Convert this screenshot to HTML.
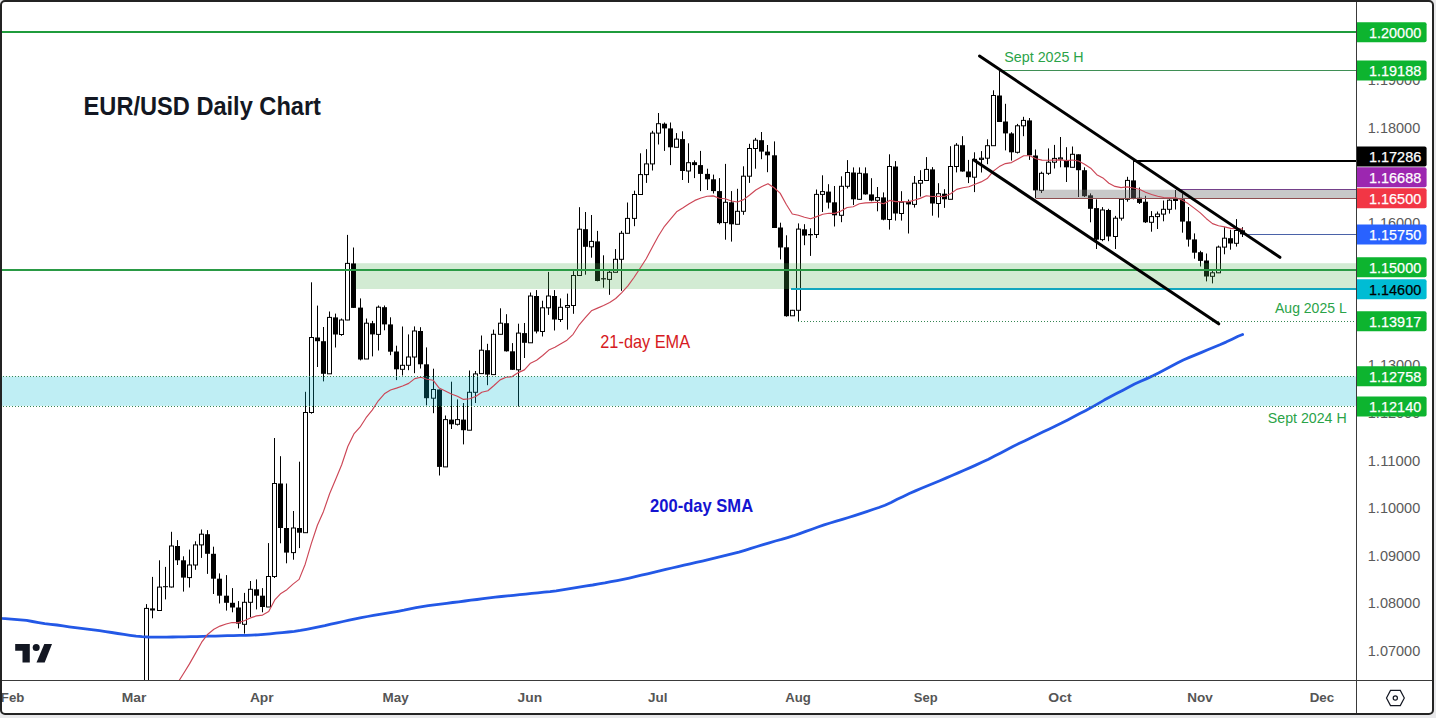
<!DOCTYPE html><html><head><meta charset="utf-8"><title>EUR/USD Daily Chart</title><style>html,body{margin:0;padding:0;width:1436px;height:718px;overflow:hidden;background:#e8e8ea}svg{display:block}text{font-family:"Liberation Sans",Arial,sans-serif}</style></head><body>
<svg width="1436" height="718" viewBox="0 0 1436 718">
<defs><clipPath id="cp"><rect x="2" y="2" width="1354" height="678"/></clipPath></defs>
<rect x="1" y="1" width="1432" height="713" rx="4" fill="#ffffff"/>
<g clip-path="url(#cp)">
<path d="M146.5 604.1V691.0M152.5 576.9V618.3M159.5 560.3V610.5M165.5 566.9V599.4M171.5 531.8V587.5M177.5 540.1V565.0M183.5 556.3V591.6M189.5 549.6V587.5M195.5 541.3V569.8M201.5 529.5V557.9M207.5 530.1V573.9M213.5 546.7V594.0M219.5 573.4V603.5M226.5 575.1V610.6M232.5 588.1V612.3M238.5 601.1V628.4M244.5 592.9V633.6M250.5 581.0V617.0M256.5 579.4V609.4M262.5 588.1V612.3M268.5 543.1V607.0M274.5 438.0V578.0M280.5 456.2V543.3M286.5 483.5V563.3M293.5 511.0V559.7M299.5 461.7V548.1M305.5 391.8V532.7M311.5 282.3V413.7M317.5 305.6V367.0M323.5 327.0V381.4M329.5 311.5V373.8M335.5 313.6V347.5M341.5 318.5V335.8M347.5 234.9V320.2M353.5 247.5V307.9M360.5 298.4V360.4M366.5 318.5V359.0M372.5 320.9V356.4M378.5 305.5V350.5M384.5 305.5V330.3M390.5 317.3V355.2M396.5 345.7V380.1M402.5 326.5V375.5M408.5 334.4V370.2M414.5 326.4V373.2M420.5 327.2V368.5M426.5 347.4V405.4M433.5 368.7V413.2M439.5 389.5V475.5M445.5 415.5V466.9M451.5 381.7V429.0M457.5 399.4V425.5M463.5 403.0V444.4M469.5 370.5V430.2M475.5 371.0V403.0M481.5 335.5V373.6M487.5 343.8V385.2M493.5 329.6V374.6M500.5 308.3V334.3M506.5 314.2V351.6M512.5 343.1V369.8M518.5 323.7V406.5M524.5 323.0V358.0M530.5 292.5V342.9M536.5 290.1V333.4M542.5 300.7V336.5M548.5 271.9V314.9M554.5 290.1V330.5M560.5 298.4V322.0M567.5 293.6V329.6M573.5 271.1V313.8M579.5 207.2V275.9M585.5 212.0V274.7M591.5 215.0V257.7M597.5 230.9V281.3M603.5 255.3V287.7M609.5 270.0V294.8M615.5 249.1V272.3M621.5 230.9V290.8M627.5 202.5V233.3M634.5 190.7V226.2M640.5 153.3V194.7M646.5 149.2V182.9M652.5 130.8V170.5M658.5 113.0V144.5M664.5 122.5V150.9M670.5 122.5V165.1M676.5 133.1V147.3M682.5 131.3V180.0M688.5 143.3V182.9M694.5 160.4V178.1M700.5 150.9V191.1M707.5 168.7V190.0M713.5 174.6V193.5M719.5 178.1V224.3M725.5 163.9V239.7M731.5 191.1V241.6M737.5 188.8V224.3M743.5 166.3V214.8M749.5 143.8V182.9M755.5 137.9V168.7M761.5 132.0V159.2M767.5 145.0V172.2M774.5 141.4V228.0M780.5 222.7V259.4M786.5 235.3V316.7M792.5 309.9V315.8M798.5 223.4V321.5M804.5 224.2V245.2M810.5 228.3V255.9M816.5 189.5V238.0M822.5 175.3V212.0M828.5 184.2V208.5M834.5 186.0V226.5M841.5 176.3V222.2M847.5 160.1V188.5M853.5 167.4V205.0M859.5 167.4V199.9M865.5 167.4V194.7M871.5 178.2V201.3M877.5 187.0V211.3M883.5 192.4V220.3M889.5 154.3V229.6M895.5 161.1V220.6M901.5 191.2V220.6M908.5 199.5V233.5M914.5 176.0V207.6M920.5 170.2V196.6M926.5 157.1V180.6M932.5 167.1V215.7M938.5 183.2V217.6M944.5 189.2V207.9M950.5 146.2V199.3M956.5 143.1V172.4M962.5 136.2V171.7M968.5 159.9V183.1M974.5 152.3V192.1M981.5 151.1V172.5M987.5 139.3V164.2M993.5 90.3V145.7M999.5 70.7V122.0M1005.5 103.8V150.4M1011.5 132.2V160.6M1017.5 123.9V153.5M1023.5 116.8V136.2M1029.5 118.0V159.9M1035.5 149.5V198.0M1041.5 171.7V193.0M1048.5 148.4V174.9M1054.5 144.9V168.5M1060.5 137.0V167.3M1066.5 147.2V182.0M1072.5 146.5V167.3M1078.5 154.3V197.0M1084.5 167.3V197.0M1090.5 193.4V222.3M1096.5 199.3V249.0M1102.5 207.1V241.2M1108.5 208.8V241.2M1115.5 215.9V249.0M1121.5 199.3V220.6M1127.5 176.8V201.7M1133.5 160.2V199.3M1139.5 187.5V204.0M1145.5 195.8V223.0M1151.5 211.1V231.7M1157.5 211.5V229.0M1163.5 200.5V221.3M1169.5 199.2V213.6M1175.5 190.0V209.5M1182.5 193.6V232.7M1188.5 207.0V246.6M1194.5 233.4V258.7M1200.5 250.8V266.5M1206.5 253.5V281.4M1212.5 270.7V283.4M1218.5 245.6V273.1M1224.5 227.2V254.3M1230.5 229.8V249.7M1236.5 219.1V246.6M1242.5 227.2V237.0" stroke="#000" stroke-width="1" fill="none"/>
<g fill="#fff" stroke="#000" stroke-width="1"><rect x="144.5" y="608.4" width="4" height="78.0"/><rect x="157.5" y="587.1" width="4" height="23.4"/><rect x="169.5" y="546.0" width="4" height="41.0"/><rect x="187.5" y="565.0" width="4" height="12.6"/><rect x="193.5" y="544.9" width="4" height="20.1"/><rect x="199.5" y="534.2" width="4" height="10.7"/><rect x="242.5" y="602.3" width="4" height="22.0"/><rect x="248.5" y="589.3" width="4" height="13.0"/><rect x="266.5" y="576.5" width="4" height="30.5"/><rect x="272.5" y="483.5" width="4" height="93.0"/><rect x="291.5" y="528.0" width="4" height="24.6"/><rect x="303.5" y="412.5" width="4" height="120.2"/><rect x="309.5" y="337.5" width="4" height="75.0"/><rect x="327.5" y="317.4" width="4" height="56.4"/><rect x="339.5" y="320.0" width="4" height="14.5"/><rect x="345.5" y="263.4" width="4" height="56.6"/><rect x="364.5" y="323.2" width="4" height="35.8"/><rect x="376.5" y="307.2" width="4" height="27.2"/><rect x="400.5" y="365.3" width="4" height="4.0"/><rect x="406.5" y="357.0" width="4" height="8.3"/><rect x="412.5" y="331.0" width="4" height="26.0"/><rect x="431.5" y="389.5" width="4" height="8.7"/><rect x="443.5" y="419.6" width="4" height="47.3"/><rect x="455.5" y="419.6" width="4" height="4.7"/><rect x="467.5" y="392.3" width="4" height="37.9"/><rect x="473.5" y="373.9" width="4" height="18.4"/><rect x="479.5" y="350.2" width="4" height="23.4"/><rect x="491.5" y="334.3" width="4" height="40.3"/><rect x="498.5" y="323.2" width="4" height="11.1"/><rect x="516.5" y="333.1" width="4" height="36.7"/><rect x="528.5" y="296.0" width="4" height="46.8"/><rect x="540.5" y="307.8" width="4" height="23.7"/><rect x="546.5" y="296.0" width="4" height="11.8"/><rect x="558.5" y="307.3" width="4" height="12.2"/><rect x="565.5" y="305.5" width="4" height="1.8"/><rect x="571.5" y="275.5" width="4" height="30.0"/><rect x="577.5" y="229.2" width="4" height="46.3"/><rect x="589.5" y="241.4" width="4" height="5.4"/><rect x="607.5" y="272.3" width="4" height="7.1"/><rect x="613.5" y="259.3" width="4" height="13.0"/><rect x="619.5" y="233.3" width="4" height="26.0"/><rect x="625.5" y="218.4" width="4" height="14.9"/><rect x="632.5" y="194.5" width="4" height="23.9"/><rect x="638.5" y="174.6" width="4" height="19.9"/><rect x="644.5" y="163.9" width="4" height="10.7"/><rect x="650.5" y="133.1" width="4" height="30.8"/><rect x="656.5" y="123.7" width="4" height="9.4"/><rect x="674.5" y="139.1" width="4" height="8.2"/><rect x="686.5" y="162.7" width="4" height="8.3"/><rect x="723.5" y="202.3" width="4" height="20.3"/><rect x="735.5" y="211.3" width="4" height="13.0"/><rect x="741.5" y="176.2" width="4" height="35.1"/><rect x="747.5" y="148.5" width="4" height="27.7"/><rect x="753.5" y="140.2" width="4" height="8.3"/><rect x="790.5" y="310.3" width="4" height="5.5"/><rect x="796.5" y="229.1" width="4" height="81.2"/><rect x="814.5" y="194.4" width="4" height="40.1"/><rect x="820.5" y="191.6" width="4" height="2.8"/><rect x="839.5" y="186.3" width="4" height="29.0"/><rect x="845.5" y="172.5" width="4" height="13.8"/><rect x="857.5" y="173.3" width="4" height="26.0"/><rect x="875.5" y="197.6" width="4" height="2.7"/><rect x="887.5" y="166.5" width="4" height="53.0"/><rect x="899.5" y="202.2" width="4" height="11.3"/><rect x="912.5" y="183.2" width="4" height="21.2"/><rect x="918.5" y="180.5" width="4" height="2.7"/><rect x="924.5" y="169.4" width="4" height="11.1"/><rect x="936.5" y="193.7" width="4" height="9.8"/><rect x="948.5" y="166.5" width="4" height="32.8"/><rect x="954.5" y="145.2" width="4" height="21.3"/><rect x="972.5" y="159.4" width="4" height="17.8"/><rect x="979.5" y="158.2" width="4" height="1.2"/><rect x="985.5" y="145.7" width="4" height="12.5"/><rect x="991.5" y="95.5" width="4" height="50.2"/><rect x="1015.5" y="125.8" width="4" height="26.5"/><rect x="1021.5" y="120.4" width="4" height="5.4"/><rect x="1039.5" y="173.3" width="4" height="17.1"/><rect x="1046.5" y="162.2" width="4" height="11.1"/><rect x="1052.5" y="158.4" width="4" height="3.8"/><rect x="1058.5" y="157.9" width="4" height="1.2"/><rect x="1070.5" y="154.3" width="4" height="13.0"/><rect x="1100.5" y="210.0" width="4" height="29.6"/><rect x="1113.5" y="218.2" width="4" height="18.3"/><rect x="1119.5" y="199.3" width="4" height="18.9"/><rect x="1125.5" y="180.4" width="4" height="18.9"/><rect x="1149.5" y="216.6" width="4" height="5.7"/><rect x="1155.5" y="214.1" width="4" height="2.5"/><rect x="1161.5" y="209.3" width="4" height="4.8"/><rect x="1167.5" y="200.2" width="4" height="9.1"/><rect x="1173.5" y="199.5" width="4" height="1.0"/><rect x="1210.5" y="272.8" width="4" height="3.5"/><rect x="1216.5" y="247.1" width="4" height="25.7"/><rect x="1222.5" y="238.2" width="4" height="8.9"/><rect x="1234.5" y="230.5" width="4" height="12.8"/></g>
<g fill="#000"><rect x="150.0" y="608.4" width="5" height="2.1"/><rect x="163.0" y="586.2" width="5" height="1.0"/><rect x="175.0" y="546.0" width="5" height="14.3"/><rect x="181.0" y="560.3" width="5" height="17.3"/><rect x="205.0" y="534.2" width="5" height="19.6"/><rect x="211.0" y="553.8" width="5" height="24.9"/><rect x="217.0" y="578.7" width="5" height="17.0"/><rect x="224.0" y="595.7" width="5" height="7.1"/><rect x="230.0" y="602.8" width="5" height="4.7"/><rect x="236.0" y="607.5" width="5" height="16.1"/><rect x="254.0" y="589.3" width="5" height="6.4"/><rect x="260.0" y="595.7" width="5" height="11.3"/><rect x="278.0" y="483.5" width="5" height="44.5"/><rect x="284.0" y="528.0" width="5" height="24.6"/><rect x="297.0" y="528.0" width="5" height="4.7"/><rect x="315.0" y="337.5" width="5" height="3.7"/><rect x="321.0" y="341.2" width="5" height="32.6"/><rect x="333.0" y="317.4" width="5" height="17.1"/><rect x="351.0" y="263.4" width="5" height="44.5"/><rect x="358.0" y="307.6" width="5" height="51.9"/><rect x="370.0" y="323.2" width="5" height="11.2"/><rect x="382.0" y="307.2" width="5" height="17.2"/><rect x="388.0" y="324.4" width="5" height="27.3"/><rect x="394.0" y="351.5" width="5" height="17.8"/><rect x="418.0" y="331.0" width="5" height="33.3"/><rect x="424.0" y="364.3" width="5" height="33.9"/><rect x="437.0" y="389.5" width="5" height="77.4"/><rect x="449.0" y="419.6" width="5" height="4.7"/><rect x="461.0" y="419.6" width="5" height="10.6"/><rect x="485.0" y="350.2" width="5" height="24.4"/><rect x="504.0" y="323.2" width="5" height="28.1"/><rect x="510.0" y="351.3" width="5" height="18.5"/><rect x="522.0" y="333.1" width="5" height="9.7"/><rect x="534.0" y="296.0" width="5" height="35.5"/><rect x="552.0" y="296.0" width="5" height="23.5"/><rect x="583.0" y="229.2" width="5" height="17.6"/><rect x="595.0" y="241.4" width="5" height="39.6"/><rect x="601.0" y="278.2" width="5" height="1.2"/><rect x="662.0" y="123.7" width="5" height="4.7"/><rect x="668.0" y="128.4" width="5" height="18.9"/><rect x="680.0" y="139.1" width="5" height="31.9"/><rect x="692.0" y="162.2" width="5" height="2.9"/><rect x="698.0" y="165.1" width="5" height="8.8"/><rect x="705.0" y="173.9" width="5" height="5.4"/><rect x="711.0" y="179.3" width="5" height="11.8"/><rect x="717.0" y="191.1" width="5" height="32.0"/><rect x="729.0" y="202.3" width="5" height="22.0"/><rect x="759.0" y="140.2" width="5" height="11.4"/><rect x="765.0" y="151.6" width="5" height="3.7"/><rect x="772.0" y="155.3" width="5" height="72.7"/><rect x="778.0" y="227.5" width="5" height="20.0"/><rect x="784.0" y="247.3" width="5" height="68.9"/><rect x="802.0" y="229.3" width="5" height="6.3"/><rect x="808.0" y="234.0" width="5" height="1.3"/><rect x="826.0" y="191.6" width="5" height="11.0"/><rect x="832.0" y="202.3" width="5" height="13.0"/><rect x="851.0" y="172.5" width="5" height="26.8"/><rect x="863.0" y="173.3" width="5" height="21.1"/><rect x="869.0" y="194.4" width="5" height="6.2"/><rect x="881.0" y="197.4" width="5" height="22.3"/><rect x="893.0" y="166.5" width="5" height="47.0"/><rect x="906.0" y="201.9" width="5" height="2.5"/><rect x="930.0" y="169.4" width="5" height="34.1"/><rect x="942.0" y="193.7" width="5" height="5.6"/><rect x="960.0" y="145.2" width="5" height="26.3"/><rect x="966.0" y="171.5" width="5" height="5.7"/><rect x="997.0" y="95.5" width="5" height="26.5"/><rect x="1003.0" y="121.5" width="5" height="11.9"/><rect x="1009.0" y="133.4" width="5" height="18.9"/><rect x="1027.0" y="120.4" width="5" height="34.9"/><rect x="1033.0" y="155.5" width="5" height="34.9"/><rect x="1064.0" y="160.2" width="5" height="7.1"/><rect x="1076.0" y="154.3" width="5" height="15.9"/><rect x="1082.0" y="170.2" width="5" height="26.0"/><rect x="1088.0" y="195.3" width="5" height="13.5"/><rect x="1094.0" y="208.1" width="5" height="31.5"/><rect x="1106.0" y="210.0" width="5" height="26.5"/><rect x="1131.0" y="180.4" width="5" height="17.7"/><rect x="1137.0" y="197.7" width="5" height="5.2"/><rect x="1143.0" y="201.7" width="5" height="20.6"/><rect x="1180.0" y="199.3" width="5" height="22.3"/><rect x="1186.0" y="221.3" width="5" height="18.3"/><rect x="1192.0" y="239.4" width="5" height="13.3"/><rect x="1198.0" y="252.2" width="5" height="8.7"/><rect x="1204.0" y="260.5" width="5" height="16.0"/><rect x="1228.0" y="238.2" width="5" height="5.3"/><rect x="1240.0" y="230.3" width="5" height="4.0"/></g>
<rect x="0" y="376.5" width="1356" height="29.4" fill="rgba(0,188,212,0.25)"/>
<rect x="355.8" y="263.2" width="1000.2" height="25.8" fill="rgba(76,175,80,0.25)"/>
<rect x="1035.6" y="189.7" width="320.4" height="8.9" fill="rgba(117,117,117,0.40)"/>
<polyline points="0.0,618.1 2.1,618.4 8.2,618.8 14.3,619.3 20.4,619.8 26.5,620.4 32.5,621.5 38.6,622.6 44.7,623.6 50.8,624.3 56.9,625.0 63.0,625.9 69.1,626.8 75.2,627.6 81.3,628.4 87.3,629.1 93.4,629.9 99.5,630.7 105.6,631.6 111.7,632.5 117.8,633.5 123.9,634.4 130.0,635.3 136.1,636.1 142.1,636.7 148.2,637.0 154.3,637.1 160.4,637.1 166.5,637.1 172.6,637.0 178.7,636.9 184.8,636.8 190.9,636.7 196.9,636.6 203.0,636.4 209.1,636.2 215.2,636.1 221.3,635.9 227.4,635.7 233.5,635.6 239.6,635.4 245.7,635.3 251.7,635.1 257.8,634.8 263.9,634.3 270.0,633.8 276.1,633.2 282.2,632.6 288.3,632.0 294.4,631.3 300.5,630.4 306.5,629.3 312.6,628.1 318.7,626.8 324.8,625.6 330.9,624.2 337.0,622.9 343.1,621.5 349.2,620.1 355.3,618.9 361.3,617.7 367.4,616.5 373.5,615.4 379.6,614.3 385.7,613.3 391.8,612.3 397.9,611.3 404.0,610.2 410.1,608.9 416.1,607.7 422.2,606.6 428.3,605.7 434.4,604.9 440.5,604.1 446.6,603.3 452.7,602.5 458.8,601.8 464.9,601.0 470.9,600.2 477.0,599.5 483.1,598.7 489.2,597.9 495.3,597.2 501.4,596.5 507.5,595.9 513.6,595.3 519.7,594.7 525.7,594.1 531.8,593.4 537.9,592.8 544.0,592.2 550.1,591.6 556.2,590.8 562.3,589.8 568.4,588.8 574.5,587.8 580.5,586.9 586.6,585.9 592.7,585.0 598.8,583.9 604.9,582.9 611.0,581.7 617.1,580.6 623.2,579.4 629.3,578.1 635.3,576.7 641.4,575.2 647.5,573.8 653.6,572.3 659.7,570.9 665.8,569.4 671.9,568.0 678.0,566.6 684.1,565.2 690.1,563.8 696.2,562.4 702.3,561.1 708.4,559.7 714.5,558.2 720.6,556.7 726.7,555.2 732.8,553.7 738.9,552.1 744.9,550.3 751.0,548.4 757.1,546.5 763.2,544.6 769.3,542.8 775.4,541.0 781.5,539.4 787.6,537.6 793.7,535.7 799.7,533.6 805.8,531.4 811.9,529.2 818.0,527.0 824.1,524.9 830.2,523.0 836.3,521.2 842.4,519.4 848.5,517.5 854.5,515.6 860.6,513.6 866.7,511.6 872.8,509.5 878.9,507.5 885.0,505.2 891.1,502.4 897.2,499.3 903.3,496.4 909.3,493.5 915.4,490.9 921.5,488.3 927.6,485.8 933.7,483.2 939.8,480.7 945.9,478.1 952.0,475.5 958.1,472.9 964.1,470.3 970.2,467.6 976.3,464.9 982.4,462.1 988.5,459.2 994.6,456.1 1000.7,452.9 1006.8,449.7 1012.9,446.6 1018.9,443.6 1025.0,440.7 1031.1,437.7 1037.2,434.8 1043.3,431.8 1049.4,428.9 1055.5,426.0 1061.6,423.1 1067.7,420.0 1073.7,416.8 1079.8,413.6 1085.9,410.4 1092.0,407.1 1098.1,403.6 1104.2,400.1 1110.3,396.8 1116.4,393.6 1122.5,390.4 1128.5,387.2 1134.6,384.1 1140.7,381.3 1146.8,378.6 1152.9,375.8 1159.0,372.7 1165.1,369.5 1171.2,366.2 1177.3,363.0 1183.3,360.0 1189.4,357.4 1195.5,354.9 1201.6,352.4 1207.7,349.8 1213.8,347.3 1219.9,344.8 1226.0,342.1 1232.1,339.2 1238.1,336.3 1242.6,334.5" fill="none" stroke="#2358e6" stroke-width="2.8" stroke-linejoin="round" stroke-linecap="round"/>
<polyline points="134.7,771.0 140.8,763.3 146.9,749.2 153.0,736.6 159.1,723.0 165.2,710.6 171.3,695.7 177.3,683.4 183.4,673.8 189.5,663.9 195.6,653.1 201.7,642.2 207.8,634.2 213.9,629.2 220.0,626.1 226.1,624.0 232.1,622.5 238.2,622.6 244.3,620.8 250.4,617.9 256.5,615.9 262.6,615.1 268.7,611.6 274.8,599.9 280.9,593.4 286.9,589.7 293.0,584.1 299.1,579.4 305.2,564.2 311.3,543.6 317.4,525.2 323.5,511.4 329.6,493.8 335.7,479.3 341.7,464.8 347.8,446.5 353.9,433.9 360.0,427.2 366.1,417.7 372.2,410.1 378.3,400.8 384.4,393.8 390.5,390.0 396.5,388.1 402.6,386.0 408.7,383.4 414.8,378.6 420.9,377.3 427.0,379.2 433.1,380.2 439.2,388.1 445.3,390.9 451.3,394.0 457.4,396.3 463.5,399.4 469.6,398.7 475.7,396.5 481.8,392.3 487.9,390.7 494.0,385.5 500.1,379.9 506.1,377.3 512.2,376.6 518.3,372.6 524.4,369.9 530.5,363.2 536.6,360.3 542.7,355.5 548.8,350.1 554.9,347.3 560.9,343.7 567.0,340.2 573.1,334.3 579.2,324.8 585.3,317.7 591.4,310.8 597.5,308.1 603.6,305.5 609.7,302.4 615.7,298.5 621.8,292.6 627.9,285.8 634.0,277.5 640.1,268.2 646.2,258.7 652.3,247.3 658.4,236.0 664.5,226.3 670.5,219.1 676.6,211.8 682.7,208.1 688.8,204.0 694.9,200.4 701.0,198.0 707.1,196.3 713.2,195.9 719.3,198.3 725.3,198.7 731.4,201.0 737.5,202.0 743.6,199.6 749.7,195.0 755.8,190.0 761.9,186.5 768.0,183.7 774.1,187.7 780.1,193.1 786.2,204.3 792.3,214.0 798.4,215.3 804.5,217.2 810.6,218.8 816.7,216.6 822.8,214.3 828.9,213.3 834.9,213.4 841.0,211.0 847.1,207.5 853.2,206.7 859.3,203.7 865.4,202.9 871.5,202.6 877.6,202.2 883.7,203.8 889.7,200.4 895.8,201.6 901.9,201.6 908.0,201.9 914.1,200.2 920.2,198.4 926.3,195.8 932.4,196.5 938.5,196.2 944.5,196.5 950.6,193.8 956.7,189.4 962.8,187.7 968.9,186.8 975.0,184.3 981.1,181.9 987.2,178.6 993.3,171.1 999.3,166.6 1005.4,163.6 1011.5,162.6 1017.6,159.2 1023.7,155.7 1029.8,155.7 1035.9,158.8 1042.0,160.1 1048.1,160.3 1054.1,160.1 1060.2,159.9 1066.3,160.6 1072.4,160.0 1078.5,161.0 1084.6,164.2 1090.7,168.2 1096.8,174.7 1102.9,177.9 1108.9,183.2 1115.0,186.4 1121.1,187.6 1127.2,186.9 1133.3,188.0 1139.4,189.3 1145.5,192.3 1151.6,194.5 1157.7,196.3 1163.7,197.5 1169.8,197.7 1175.9,197.9 1182.0,200.0 1188.1,203.6 1194.2,208.1 1200.3,212.9 1206.4,218.7 1212.5,223.6 1218.5,225.7 1224.6,226.9 1230.7,228.4 1236.8,228.6 1242.9,229.1" fill="none" stroke="#cc4656" stroke-width="1.15" stroke-linejoin="round"/>
<path d="M0 32H1356" stroke="#1f9c3c" stroke-width="2"/>
<path d="M1000.4 70.5H1356" stroke="#3f8f55" stroke-width="1"/>
<path d="M1133.5 161H1356" stroke="#000" stroke-width="2"/>
<path d="M1176 189.5H1356" stroke="#74408a" stroke-width="1"/>
<path d="M1035.6 198.5H1356" stroke="#8f4d4f" stroke-width="1.2"/>
<path d="M1243 234.5H1356" stroke="#4a62a8" stroke-width="1"/>
<path d="M0 270H1356" stroke="#2a9a45" stroke-width="2"/>
<path d="M791 289H1356" stroke="#12a6bf" stroke-width="2"/>
<g stroke="#358552" stroke-width="1" stroke-dasharray="1 2">
<path d="M798 321.5H1356"/><path d="M0 376.5H1356"/><path d="M0 406.5H1356"/>
</g>
<path d="M979.5 56L1279.9 257.3M973.9 159.9L1218.7 323.8" stroke="#000" stroke-width="3" stroke-linecap="round"/>
</g>
<text x="83.6" y="115.4" font-size="25.5" font-weight="bold" fill="#131722" textLength="237.4" lengthAdjust="spacingAndGlyphs">EUR/USD Daily Chart</text>
<text x="1004.3" y="61.9" font-size="15" fill="#2aa348" textLength="79.4" lengthAdjust="spacingAndGlyphs">Sept 2025 H</text>
<text x="1275" y="313" font-size="15" fill="#2aa348" textLength="71.7" lengthAdjust="spacingAndGlyphs">Aug 2025 L</text>
<text x="1267.8" y="422.6" font-size="15" fill="#2aa348" textLength="78.9" lengthAdjust="spacingAndGlyphs">Sept 2024 H</text>
<text x="600.3" y="347.8" font-size="17.7" fill="#d61a22" textLength="89.8" lengthAdjust="spacingAndGlyphs">21-day EMA</text>
<text x="650.1" y="511.7" font-size="17.8" font-weight="bold" fill="#1414d0" textLength="103" lengthAdjust="spacingAndGlyphs">200-day SMA</text>
<g fill="#131722"><path d="M15.2 644.1H29.8V662.4H22.5V650.7H15.2Z"/><circle cx="36.2" cy="647.4" r="3.5"/><path d="M44.3 644.1H52L44.7 662.4H36.5Z"/></g>
<path d="M1356.5 2V714M2 680.5H1432" stroke="#3a3a3a" stroke-width="1"/>
<text x="1367.8" y="85.2" font-size="15.3" fill="#5a5a5a" textLength="52.4" lengthAdjust="spacingAndGlyphs">1.19000</text>
<text x="1367.8" y="132.7" font-size="15.3" fill="#5a5a5a" textLength="52.4" lengthAdjust="spacingAndGlyphs">1.18000</text>
<text x="1367.8" y="180.2" font-size="15.3" fill="#5a5a5a" textLength="52.4" lengthAdjust="spacingAndGlyphs">1.17000</text>
<text x="1367.8" y="227.8" font-size="15.3" fill="#5a5a5a" textLength="52.4" lengthAdjust="spacingAndGlyphs">1.16000</text>
<text x="1367.8" y="275.3" font-size="15.3" fill="#5a5a5a" textLength="52.4" lengthAdjust="spacingAndGlyphs">1.15000</text>
<text x="1367.8" y="322.9" font-size="15.3" fill="#5a5a5a" textLength="52.4" lengthAdjust="spacingAndGlyphs">1.14000</text>
<text x="1367.8" y="370.4" font-size="15.3" fill="#5a5a5a" textLength="52.4" lengthAdjust="spacingAndGlyphs">1.13000</text>
<text x="1367.8" y="417.9" font-size="15.3" fill="#5a5a5a" textLength="52.4" lengthAdjust="spacingAndGlyphs">1.12000</text>
<text x="1367.8" y="465.5" font-size="15.3" fill="#5a5a5a" textLength="52.4" lengthAdjust="spacingAndGlyphs">1.11000</text>
<text x="1367.8" y="513.0" font-size="15.3" fill="#5a5a5a" textLength="52.4" lengthAdjust="spacingAndGlyphs">1.10000</text>
<text x="1367.8" y="560.6" font-size="15.3" fill="#5a5a5a" textLength="52.4" lengthAdjust="spacingAndGlyphs">1.09000</text>
<text x="1367.8" y="608.1" font-size="15.3" fill="#5a5a5a" textLength="52.4" lengthAdjust="spacingAndGlyphs">1.08000</text>
<text x="1367.8" y="655.6" font-size="15.3" fill="#5a5a5a" textLength="52.4" lengthAdjust="spacingAndGlyphs">1.07000</text>
<path d="M1357 22.2H1424.6a2 2 0 0 1 2 2V40.2a2 2 0 0 1 -2 2H1357Z" fill="#0db42f"/>
<text x="1369.0" y="37.7" font-size="15.4" fill="#fff" stroke="#fff" stroke-width="0.25" textLength="52.2" lengthAdjust="spacingAndGlyphs">1.20000</text>
<path d="M1357 60.4H1424.6a2 2 0 0 1 2 2V78.4a2 2 0 0 1 -2 2H1357Z" fill="#0db42f"/>
<text x="1369.0" y="75.9" font-size="15.4" fill="#fff" stroke="#fff" stroke-width="0.25" textLength="52.2" lengthAdjust="spacingAndGlyphs">1.19188</text>
<path d="M1357 146.5H1424.6a2 2 0 0 1 2 2V164.5a2 2 0 0 1 -2 2H1357Z" fill="#000"/>
<text x="1369.0" y="162.0" font-size="15.4" fill="#fff" stroke="#fff" stroke-width="0.25" textLength="52.2" lengthAdjust="spacingAndGlyphs">1.17286</text>
<path d="M1357 167.3H1424.6a2 2 0 0 1 2 2V185.3a2 2 0 0 1 -2 2H1357Z" fill="#9c27b0"/>
<text x="1369.0" y="182.8" font-size="15.4" fill="#fff" stroke="#fff" stroke-width="0.25" textLength="52.2" lengthAdjust="spacingAndGlyphs">1.16688</text>
<path d="M1357 188.3H1424.6a2 2 0 0 1 2 2V206.3a2 2 0 0 1 -2 2H1357Z" fill="#f23645"/>
<text x="1369.0" y="203.8" font-size="15.4" fill="#fff" stroke="#fff" stroke-width="0.25" textLength="52.2" lengthAdjust="spacingAndGlyphs">1.16500</text>
<path d="M1357 224.5H1424.6a2 2 0 0 1 2 2V242.5a2 2 0 0 1 -2 2H1357Z" fill="#2962ff"/>
<text x="1369.0" y="240.0" font-size="15.4" fill="#fff" stroke="#fff" stroke-width="0.25" textLength="52.2" lengthAdjust="spacingAndGlyphs">1.15750</text>
<path d="M1357 257.3H1424.6a2 2 0 0 1 2 2V275.3a2 2 0 0 1 -2 2H1357Z" fill="#0db42f"/>
<text x="1369.0" y="272.8" font-size="15.4" fill="#fff" stroke="#fff" stroke-width="0.25" textLength="52.2" lengthAdjust="spacingAndGlyphs">1.15000</text>
<path d="M1357 279.3H1424.6a2 2 0 0 1 2 2V297.3a2 2 0 0 1 -2 2H1357Z" fill="#00bcd4"/>
<text x="1369.0" y="294.8" font-size="15.4" fill="#000" stroke="#000" stroke-width="0.25" textLength="52.2" lengthAdjust="spacingAndGlyphs">1.14600</text>
<path d="M1357 311.2H1424.6a2 2 0 0 1 2 2V329.2a2 2 0 0 1 -2 2H1357Z" fill="#0db42f"/>
<text x="1369.0" y="326.7" font-size="15.4" fill="#fff" stroke="#fff" stroke-width="0.25" textLength="52.2" lengthAdjust="spacingAndGlyphs">1.13917</text>
<path d="M1357 366.3H1424.6a2 2 0 0 1 2 2V384.3a2 2 0 0 1 -2 2H1357Z" fill="#0db42f"/>
<text x="1369.0" y="381.8" font-size="15.4" fill="#fff" stroke="#fff" stroke-width="0.25" textLength="52.2" lengthAdjust="spacingAndGlyphs">1.12758</text>
<path d="M1357 396.4H1424.6a2 2 0 0 1 2 2V414.4a2 2 0 0 1 -2 2H1357Z" fill="#0db42f"/>
<text x="1369.0" y="411.9" font-size="15.4" fill="#fff" stroke="#fff" stroke-width="0.25" textLength="52.2" lengthAdjust="spacingAndGlyphs">1.12140</text>
<text x="12.6" y="701.8" font-size="13.2" font-weight="bold" fill="#555" text-anchor="middle">Feb</text>
<text x="121.8" y="701.8" font-size="13.2" font-weight="bold" fill="#555" textLength="24.6" lengthAdjust="spacingAndGlyphs">Mar</text>
<text x="249.9" y="701.8" font-size="13.2" font-weight="bold" fill="#555" textLength="23.8" lengthAdjust="spacingAndGlyphs">Apr</text>
<text x="382.6" y="701.8" font-size="13.2" font-weight="bold" fill="#555" textLength="26.1" lengthAdjust="spacingAndGlyphs">May</text>
<text x="517.5" y="701.8" font-size="13.2" font-weight="bold" fill="#555" textLength="24.6" lengthAdjust="spacingAndGlyphs">Jun</text>
<text x="648.0" y="701.8" font-size="13.2" font-weight="bold" fill="#555" textLength="19.5" lengthAdjust="spacingAndGlyphs">Jul</text>
<text x="785.2" y="701.8" font-size="13.2" font-weight="bold" fill="#555" textLength="25.6" lengthAdjust="spacingAndGlyphs">Aug</text>
<text x="913.8" y="701.8" font-size="13.2" font-weight="bold" fill="#555" textLength="23.8" lengthAdjust="spacingAndGlyphs">Sep</text>
<text x="1048.3" y="701.8" font-size="13.2" font-weight="bold" fill="#555" textLength="23.3" lengthAdjust="spacingAndGlyphs">Oct</text>
<text x="1187.2" y="701.8" font-size="13.2" font-weight="bold" fill="#555" textLength="25.5" lengthAdjust="spacingAndGlyphs">Nov</text>
<text x="1309.7" y="701.8" font-size="13.2" font-weight="bold" fill="#555" textLength="24.5" lengthAdjust="spacingAndGlyphs">Dec</text>
<polygon points="1386.5,698.0 1390.5,690.4 1400.3,690.4 1404.3,698.0 1400.3,705.6 1390.5,705.6" fill="none" stroke="#131722" stroke-width="1.2"/>
<circle cx="1395.3" cy="698" r="2.1" fill="none" stroke="#131722" stroke-width="1.2"/>
<rect x="1" y="1" width="1432" height="713" rx="4" fill="none" stroke="#232323" stroke-width="2"/>
</svg></body></html>
